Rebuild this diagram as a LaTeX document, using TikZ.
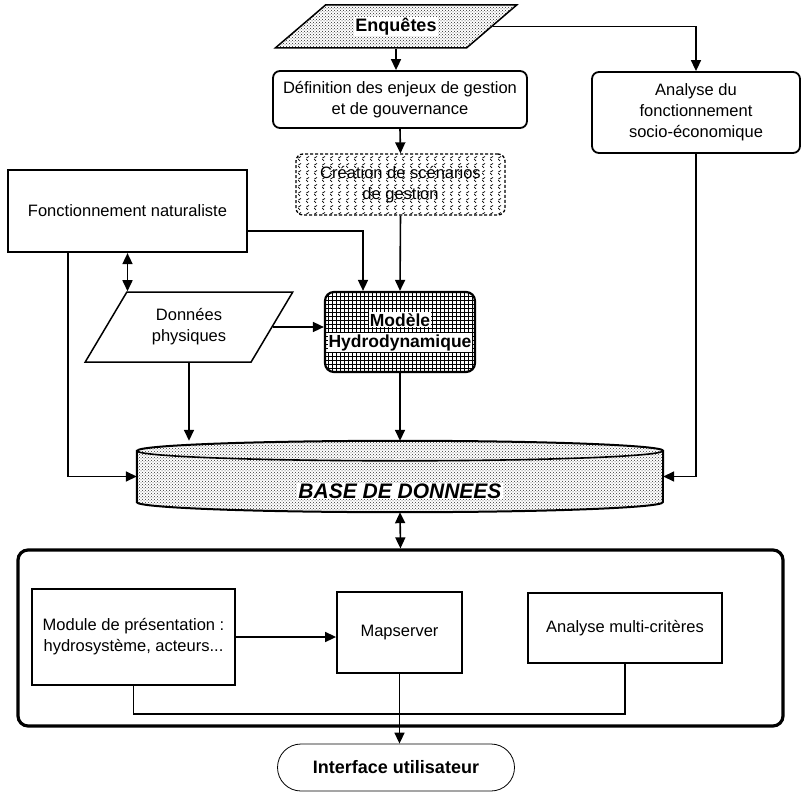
\documentclass[tikz,border=0pt]{standalone}
\usepackage{fontspec}
\setmainfont{Liberation Sans}
\usetikzlibrary{shapes.geometric, shapes.misc, arrows.meta, patterns}
\setlength{\fboxsep}{1pt}

% little chevrons for the scenario box
\pgfdeclarepatternformonly{chevrons}{\pgfqpoint{-1pt}{-1pt}}{\pgfqpoint{9pt}{9pt}}{\pgfqpoint{8pt}{7pt}}{
  \pgfsetlinewidth{0.7pt}
  \pgfpathmoveto{\pgfqpoint{5pt}{5.5pt}}
  \pgfpathlineto{\pgfqpoint{1.5pt}{3.5pt}}
  \pgfpathlineto{\pgfqpoint{4pt}{1pt}}
  \pgfusepath{stroke}}
% dense grid for the model box
\pgfdeclarepatternformonly{finegrid}{\pgfqpoint{-1pt}{-1pt}}{\pgfqpoint{5pt}{5pt}}{\pgfqpoint{4pt}{4pt}}{
  \pgfsetlinewidth{0.7pt}
  \pgfpathmoveto{\pgfqpoint{0pt}{0pt}}\pgfpathlineto{\pgfqpoint{0pt}{4.1pt}}
  \pgfpathmoveto{\pgfqpoint{0pt}{0pt}}\pgfpathlineto{\pgfqpoint{4.1pt}{0pt}}
  \pgfusepath{stroke}}

\begin{document}
\begin{tikzpicture}[
    x=1pt, y=-1pt, % pixel grid, y going down
    node font=\fontsize{16.5}{21}\selectfont,
    box/.style={draw, line width=1.8pt, align=center, inner sep=2pt},
    rbox/.style={box, rounded corners=7pt},
    para/.style={draw, line width=1.5pt, trapezium, trapezium stretches=true, align=center},
    link/.style={line width=1.6pt},
    arr/.style={link, -{Triangle[length=11pt,width=10pt]}},
    darr/.style={link, {Triangle[length=11pt,width=10pt]}-{Triangle[length=11pt,width=10pt]}}
]
  \useasboundingbox (0,0) rectangle (804,792);

  % --- TOP ---
  \node[para, trapezium left angle=42, trapezium right angle=138,
        minimum width=242pt, minimum height=43pt,
        pattern=crosshatch dots, pattern color=black!85,
        font=\bfseries\fontsize{18}{22}\selectfont] (enq) at (396,26.5) {\colorbox{white}{Enquêtes}};
  \node[rbox, minimum width=254pt, minimum height=57pt] (defn) at (400,99.5)
       {Définition des enjeux de gestion\\et de gouvernance};
  \node[rbox, minimum width=208pt, minimum height=81pt] (analyse) at (696,112.5)
       {Analyse du\\fonctionnement\\socio-économique};
  \node[rbox, densely dashed, line width=1.3pt, minimum width=209pt, minimum height=61pt,
        pattern=chevrons, pattern color=black] (cre) at (400.5,184.5)
       {Création de scénarios\\de gestion};

  % --- MIDDLE ---
  \node[box, line width=2.2pt, minimum width=239pt, minimum height=82pt] (fonct) at (127.5,211)
       {Fonctionnement naturaliste};
  \node[para, trapezium left angle=59, trapezium right angle=121,
        minimum width=208pt, minimum height=70pt] (donnees) at (189,327)
       {Données\\physiques};
  \node[rbox, line width=2.2pt, rounded corners=9pt, minimum width=150pt, minimum height=80pt,
        pattern=finegrid, pattern color=black,
        font=\bfseries\fontsize{17.5}{21}\selectfont] (model) at (400,332)
       {\colorbox{white}{Modèle}\\\colorbox{white}{Hydrodynamique}};

  % --- DATABASE (cylinder) ---
  \node[minimum width=526pt, minimum height=71pt, inner sep=0pt] (db) at (400,476.5) {};
  \path (db.north) ++(0,10) coordinate (dbtop);
  \path (db.south) ++(0,-10) coordinate (dbbot);
  \draw[line width=2pt, pattern=crosshatch dots, pattern color=black!80]
    (db.west |- dbtop) -- (db.west |- dbbot)
    arc[start angle=180, end angle=360, x radius=263pt, y radius=10pt]
    -- (db.east |- dbtop)
    arc[start angle=0, end angle=180, x radius=263pt, y radius=10pt] -- cycle;
  \draw[line width=1.6pt] (db.west |- dbtop)
    arc[start angle=180, end angle=360, x radius=263pt, y radius=10pt];
  \node[font=\bfseries\itshape\fontsize{21}{24}\selectfont, fill=white, inner sep=1pt] (dblabel) at (400,491)
       {BASE DE DONNEES};

  % --- BOTTOM FRAME ---
  \node[draw, line width=3.2pt, rounded corners=10pt, minimum width=765pt, minimum height=176pt]
       (frame) at (400.5,638) {};
  \node[box, minimum width=203pt, minimum height=96pt] (module) at (133.5,637)
       {Module de présentation :\\hydrosystème, acteurs...};
  \node[box, minimum width=125pt, minimum height=81pt] (mapsrv) at (399.5,632.5) {Mapserver};
  \node[box, minimum width=194pt, minimum height=70pt] (amc) at (625,628) {Analyse multi-critères};
  \node[draw, line width=0.8pt, rounded rectangle, minimum width=248pt, minimum height=47pt,
        font=\bfseries\fontsize{18}{22}\selectfont] (iface) at (396,767.5) {Interface utilisateur};

  % --- CONNECTORS ---
  \draw[arr] (enq.south) -- (enq.south |- defn.north);
  \draw[arr] (enq.east) -| (analyse.north);
  \draw[arr] (defn.south) -- (cre.north);
  \draw[arr] (cre.south) -- (model.north);
  \draw[arr] ([yshift=-20pt]fonct.east) -| ([xshift=-37pt]model.north);
  \draw[darr] (fonct.south) -- (fonct.south |- donnees.north);
  \draw[arr] (donnees.east) -- (donnees.east -| model.west);
  \draw[arr] (donnees.south) -- (donnees.south |- db.north);
  \draw[arr] (model.south) -- (db.north);
  \draw[arr] ([xshift=-59.5pt]fonct.south) |- (db.west);
  \draw[arr] (analyse.south) |- (db.east);
  \draw[darr] (db.south) -- (frame.north);
  \draw[arr] (module.east) -- (module.east -| mapsrv.west);
  \draw[link] (module.south) -- ++(0,28) -| (amc.south);
  \draw[arr] (mapsrv.south) -- (mapsrv.south |- iface.north);

\end{tikzpicture}
\end{document}
